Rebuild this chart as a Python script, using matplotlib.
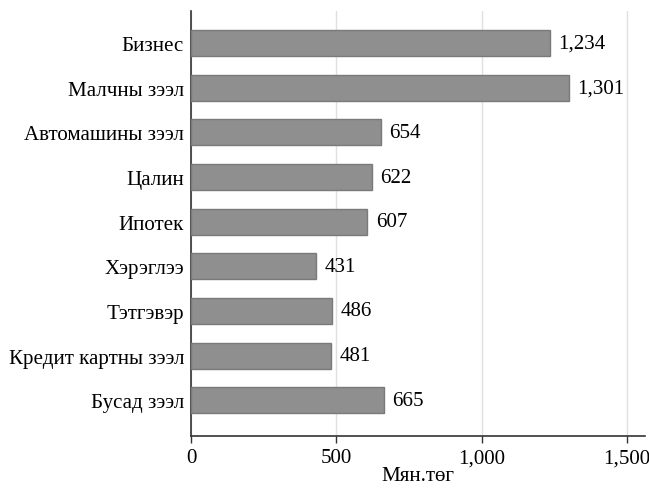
import matplotlib.pyplot as plt
import numpy as np

plt.rcParams['font.family'] = ['Liberation Serif', 'DejaVu Serif']

categories = ['Бизнес', 'Малчны зээл', 'Автомашины зээл', 'Цалин', 'Ипотек',
              'Хэрэглээ', 'Тэтгэвэр', 'Кредит картны зээл', 'Бусад зээл']
values = [1234, 1301, 654, 622, 607, 431, 486, 481, 665]
xticks = [0, 500, 1000, 1500]
xlabel = 'Мян.төг'

fs = 15.1
fig = plt.figure(figsize=(6.49, 4.89), dpi=100)
ax = fig.add_axes([191 / 649, 1 - 437 / 489, (645 - 191) / 649, (437 - 12) / 489])

y = np.arange(len(categories))
ax.barh(y, values, height=0.58, color='#8f8f8f', edgecolor='#7a7a7a', linewidth=1, zorder=3)
for yi, v in zip(y, values):
    ax.annotate(f'{v:,}', (v, yi), xytext=(6, 0), textcoords='offset points',
                va='center', ha='left', fontsize=fs)

ax.set_ylim(len(categories) - 1 + 0.80, -0.72)
ax.set_xlim(0, 1562)
ax.set_yticks(y)
ax.set_yticklabels(categories, fontsize=fs)
ax.set_xticks(xticks)
ax.set_xticklabels([f'{t:,}' for t in xticks], fontsize=fs)
ax.set_xlabel(xlabel, fontsize=fs, labelpad=-1)

ax.tick_params(axis='y', length=0, pad=5)
ax.tick_params(axis='x', length=5, width=1, color='#333333', pad=4)
ax.grid(axis='x', color='#e0e0e0', linewidth=1, zorder=0)
for s in ['top', 'right']:
    ax.spines[s].set_visible(False)
for s in ['left', 'bottom']:
    ax.spines[s].set_color('#333333')
    ax.spines[s].set_linewidth(1.2)

fig.savefig('out.png', dpi=100)
